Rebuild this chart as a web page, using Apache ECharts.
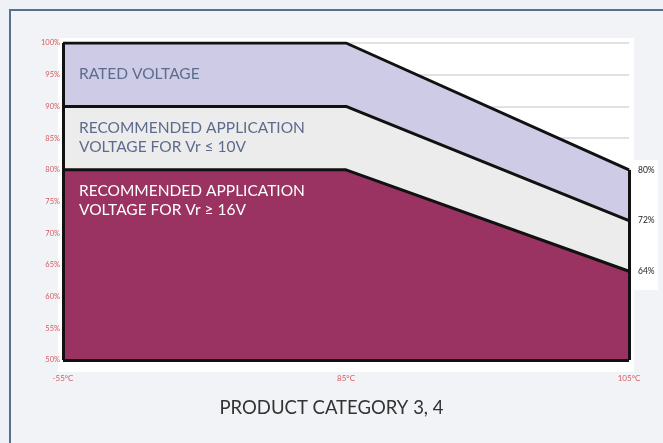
<!DOCTYPE html>
<html>
<head>
<meta charset="utf-8">
<script src="https://cdn.jsdelivr.net/npm/echarts@6/dist/echarts.min.js"></script>
<style>
html,body{margin:0;padding:0;background:#eef1f5;}
#frame{position:absolute;left:9px;top:9px;width:660px;height:440px;border-top:2px solid #5b6c8e;border-left:2px solid #5b6c8e;background:#f1f3f7;}
#main{position:absolute;left:0;top:0;width:663px;height:443px;}
</style>
</head>
<body>
<div id="frame"></div>
<div id="main"></div>
<script>
// 温度档位
var temps = ['-55°C', '85°C', '105°C'];
// 各曲线数值 (%)
var ratedVoltage = [100, 100, 80];
var recVr10 = [90, 90, 72];
var recVr16 = [80, 80, 64];
var yTicks = [50, 55, 60, 65, 70, 75, 80, 85, 90, 95, 100];

var bandNames = ['RATED VOLTAGE', 'RECOMMENDED APPLICATION\nVOLTAGE FOR Vr ≤ 10V', 'RECOMMENDED APPLICATION\nVOLTAGE FOR Vr ≥ 16V'];
var bandColors = ['#cdcbe6', '#ececec', '#9a3262'];
var bandTextColors = ['#5d6b8c', '#5d6b8c', '#ffffff'];

function makeSeries(name, values, idx){
    var data = [];
    for (var i = 0; i < values.length; i++) {
        if (i == 0) {
            data.push({
                value: values[i],
                label: {
                    show: true,
                    position: 'right',
                    offset: [11, 31],
                    formatter: bandNames[idx],
                    color: bandTextColors[idx],
                    fontSize: 15.5,
                    lineHeight: 19,
                    fontFamily: 'Lato'
                }
            });
        } else {
            data.push(values[i]);
        }
    }
    return {
        name: name,
        type: 'line',
        data: data,
        symbol: 'circle',
        symbolSize: 0,
        showSymbol: true,
        z: 2 + idx,
        lineStyle: {color: '#111', width: 3},
        itemStyle: {color: '#111'},
        areaStyle: {color: bandColors[idx], opacity: 1, origin: 'start'},
        endLabel: {
            show: true,
            formatter: '{c}%',
            color: '#222',
            fontSize: 8.5,
            distance: 9,
            fontFamily: 'Lato'
        },
        silent: true
    };
}

var myChart = echarts.init(document.getElementById('main'));
var series = [
    makeSeries('rated', ratedVoltage, 0),
    makeSeries('vr10', recVr10, 1),
    makeSeries('vr16', recVr16, 2)
];
// 左右边框和底边
series[2].markLine = {
    silent: true,
    symbol: 'none',
    label: {show: false},
    lineStyle: {color: '#111', width: 3, type: 'solid'},
    data: [
        [{coord: [temps[2], yTicks[0]]}, {coord: [temps[2], ratedVoltage[2]]}],
        [{coord: [temps[0], yTicks[0]]}, {coord: [temps[0], ratedVoltage[0]]}],
        [{coord: [temps[0], yTicks[0]]}, {coord: [temps[2], yTicks[0]]}]
    ]
};

var option = {
    animation: false,
    textStyle: {fontFamily: 'Lato'},
    title: {
        text: 'PRODUCT CATEGORY 3, 4',
        left: 'center',
        top: 394,
        textStyle: {fontSize: 18.5, fontWeight: 'normal', color: '#333', fontFamily: 'Lato'}
    },
    graphic: [{
        type: 'rect',
        z: -10,
        shape: {x: 58, y: 38, width: 576, height: 334},
        style: {fill: '#ffffff'}
    }, {
        type: 'rect',
        z: -10,
        shape: {x: 628, y: 160, width: 30, height: 130},
        style: {fill: '#ffffff'}
    }],
    grid: {left: 63, right: 34, top: 43, bottom: 83},
    xAxis: {
        type: 'category',
        boundaryGap: false,
        data: temps,
        axisLine: {show: false},
        axisTick: {show: false},
        axisLabel: {color: '#d65a5f', fontSize: 8, margin: 14},
        splitLine: {show: false}
    },
    yAxis: {
        type: 'value',
        min: 50,
        max: 100,
        interval: 5,
        axisLine: {show: false},
        axisTick: {show: false},
        axisLabel: {color: '#d65a5f', fontSize: 7.5, margin: 3, formatter: '{value}%'},
        splitLine: {lineStyle: {color: '#e2e2e2', width: 2}}
    },
    series: series
};
myChart.setOption(option);
</script>
</body>
</html>
